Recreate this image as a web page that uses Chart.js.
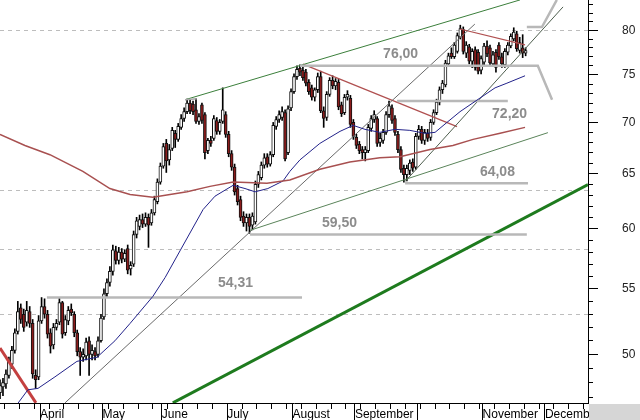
<!DOCTYPE html>
<html>
<head>
<meta charset="utf-8">
<script src="https://cdn.jsdelivr.net/npm/chart.js@4.4.1/dist/chart.umd.min.js"></script>
<style>
  html, body { margin: 0; padding: 0; background: #fff; }
  #wrap { width: 640px; height: 420px; }
</style>
</head>
<body>
<div id="wrap"><canvas id="chart" width="640" height="420"></canvas></div>
<script>
// daily candles, index 0 = first trading day shown (mid March)
const openP = [
  47.3,47.7,47.9,48.5,49.3,50.3,51.7,53.5,53.0,52.4,
  53.2,52.3,48.5,48.4,52.5,53.6,53.0,51.6,50.7,52.0,
  52.4,53.9,51.6,52.5,53.4,53.0,51.6,50.2,49.8,49.9,
  51.0,50.0,50.2,50.0,51.0,52.8,54.6,55.5,56.4,58.1,
  57.3,58.0,57.4,58.3,56.6,57.0,59.5,60.2,60.8,60.4,
  61.0,60.5,61.4,62.4,64.2,65.7,67.9,66.3,67.4,68.9,
  68.3,69.5,70.4,71.1,72.0,71.9,71.3,70.1,71.8,70.8,
  67.2,68.2,68.4,70.2,69.1,70.1,70.8,68.8,66.9,65.6,
  63.6,62.6,61.1,60.5,61.0,60.3,60.6,64.0,64.6,65.8,
  66.6,65.9,66.8,69.6,70.3,70.5,71.0,67.0,71.5,73.2,
  74.8,75.7,75.5,75.3,74.2,73.6,72.6,73.4,74.8,71.2,
  70.5,72.9,74.4,73.8,74.2,71.8,71.0,72.6,72.5,70.0,
  68.5,67.8,67.3,67.0,67.2,69.4,70.3,70.4,68.0,68.2,
  69.0,70.8,71.5,70.4,68.8,67.3,65.5,64.9,65.3,66.1,
  65.6,68.6,69.3,68.2,68.9,68.5,70.0,71.0,72.1,73.4,
  73.9,76.2,77.4,77.0,77.6,79.2,80.1,77.4,78.1,76.5,
  77.8,77.5,75.5,76.4,78.2,78.0,76.2,77.5,78.3,77.0,
  76.1,77.5,78.2,79.0,79.6,77.7,78.0,77.4
];
const highP = [
  48.2,48.3,48.9,49.8,50.6,51.9,54.0,53.8,53.4,54.0,
  53.6,52.6,48.9,52.9,54.3,54.2,53.3,51.9,52.3,52.6,
  54.3,54.0,52.9,53.6,53.8,53.2,51.8,50.5,50.4,51.2,
  51.3,50.7,50.5,51.3,53.0,55.0,55.8,56.8,58.6,58.5,
  58.4,58.3,58.2,58.6,57.2,59.8,61.0,61.2,61.3,61.4,
  61.3,61.7,62.9,64.5,66.0,67.9,68.3,67.8,69.5,69.2,
  69.9,70.8,71.5,72.4,72.3,72.2,72.5,70.9,72.0,71.0,
  68.4,68.6,70.7,70.5,70.3,73.6,71.1,69.1,67.2,65.9,
  63.9,62.9,61.5,61.3,61.3,61.4,64.3,65.2,66.1,66.9,
  66.9,67.1,70.0,70.6,71.2,71.6,71.3,71.7,73.5,75.1,
  76.0,76.1,76.0,75.6,74.5,73.9,73.6,75.2,75.4,71.6,
  73.2,74.7,74.9,74.6,74.5,72.1,72.9,73.3,72.8,70.3,
  68.8,68.1,67.6,67.6,69.8,70.7,71.2,70.6,68.9,69.3,
  71.1,72.2,71.8,70.7,69.1,67.6,65.8,65.8,66.3,66.4,
  68.9,69.7,69.6,69.3,69.3,70.3,71.3,72.4,73.7,74.4,
  76.6,77.4,78.0,78.6,79.7,80.6,80.4,78.7,78.4,77.9,
  78.1,77.8,77.1,78.5,78.8,78.3,77.6,77.8,78.6,77.4,
  77.9,78.6,79.6,80.3,79.9,79.2,79.5,78.0
];
const lowP = [
  46.9,47.1,47.6,48.3,49.0,50.1,51.5,52.3,51.7,52.1,
  52.0,48.3,47.6,48.2,52.3,52.7,51.2,50.1,50.4,51.8,
  52.2,51.2,51.4,52.2,52.9,51.3,49.9,48.5,49.5,49.6,
  48.5,49.6,49.6,49.8,50.9,52.6,54.3,55.2,56.1,57.0,
  57.0,57.1,57.2,56.2,56.1,56.8,59.2,59.9,60.1,60.2,
  58.4,60.3,61.2,62.2,64.0,65.5,65.1,65.8,67.2,67.5,
  68.1,69.3,70.1,70.9,70.9,70.8,69.9,69.8,69.9,66.4,
  66.9,67.6,68.2,68.8,68.8,69.9,68.5,66.6,65.3,63.0,
  62.1,60.7,60.2,59.8,59.6,59.9,60.4,63.7,64.4,65.5,
  65.6,65.7,66.6,69.3,70.0,70.2,66.2,66.8,71.2,73.0,
  74.5,74.9,74.4,73.8,72.9,72.3,72.2,73.1,71.0,69.5,
  70.2,72.7,73.5,73.4,71.3,70.6,70.8,72.3,69.5,68.3,
  67.4,66.9,66.4,66.2,67.0,69.1,70.0,67.6,67.6,67.9,
  68.8,70.5,69.9,68.7,67.0,65.1,64.2,64.3,64.9,65.2,
  65.4,68.3,67.9,67.8,68.1,68.2,69.8,70.8,71.8,73.0,
  73.7,76.0,76.8,76.8,77.4,79.0,77.3,76.9,76.2,75.8,
  75.5,75.1,75.1,76.1,77.0,76.0,75.9,75.3,76.7,75.8,
  75.8,77.2,78.0,78.8,77.6,77.4,76.9,77.1
];
const closeP = [
  47.8,48.0,48.6,49.5,50.3,51.6,53.2,52.6,52.0,53.3,
  52.3,48.6,48.2,52.5,53.6,53.0,51.5,50.6,52.0,52.3,
  53.9,51.5,52.6,53.3,53.1,51.6,50.2,49.8,50.0,50.9,
  50.0,50.3,49.9,51.0,52.7,54.6,55.5,56.4,58.2,57.3,
  58.0,57.4,57.9,56.5,56.9,59.5,60.7,60.8,60.4,61.0,
  60.3,61.4,62.6,64.2,65.7,67.6,66.2,67.3,69.2,68.3,
  69.6,70.4,71.1,72.0,71.2,71.1,70.1,70.6,70.2,67.0,
  68.2,67.9,70.4,69.1,70.0,71.3,68.8,66.9,65.6,63.3,
  62.4,61.0,60.5,61.0,60.2,61.1,64.0,64.9,65.8,66.5,
  65.9,66.8,69.7,70.3,70.8,71.1,66.4,71.4,73.2,74.8,
  75.6,75.3,74.7,74.1,73.2,72.6,73.4,74.8,71.2,70.4,
  72.9,74.4,73.8,74.3,71.6,70.9,72.6,72.9,69.8,68.6,
  67.7,67.2,67.0,67.3,69.5,70.4,70.8,67.9,68.4,69.0,
  70.8,71.7,70.2,69.0,67.3,65.4,64.9,65.5,66.0,65.5,
  68.6,69.3,68.2,69.0,68.4,70.0,71.0,72.1,73.4,74.1,
  76.3,77.1,77.0,78.3,79.4,80.2,77.6,78.3,76.5,77.6,
  75.8,75.4,76.8,78.2,77.3,76.3,77.2,75.8,77.0,76.2,
  77.6,78.3,79.3,79.8,77.9,78.6,77.4,77.7
];

// moving averages (day index, price)
const fastMaX = [6.1,9.4,12.8,18.5,25.9,32.7,34.7,38.7,43.8,51.5,55.6,60.6,68.4,72.4,78.5,82.5,85.9,90.2,95.3,97.6,101,107.7,114.5,118.9,122.9,127.9,133,138,143.1,146.5,150.5,154.9,160.6,166.7,170.7,176.8];
const fastMaY = [46.6,47.5,47.6,48.4,49.5,49.8,50.2,51.0,52.3,54.4,55.9,58.1,61.7,62.9,63.9,63.6,63.3,63.6,64.3,65.2,66.3,67.9,69.1,69.7,69.3,69.0,69.3,69.2,68.9,69.0,70.0,71.1,72.3,73.6,74.1,74.9];
const slowMaX = [0,8.4,16.8,27.9,37,43.8,51.5,63,70.7,78.5,89.9,97.6,107.7,117.8,127.9,134.7,144.8,152.5,159.3,168.4,176.8];
const slowMaY = [68.8,67.7,66.8,65.2,63.6,63.05,62.8,63.3,63.8,64.2,64.1,64.4,65.4,66.1,66.5,66.6,67.3,67.7,68.3,68.9,69.5];

// drawn trend lines and levels: [day index, price]
const upperChannel = [[62.3, 72.34], [175.1, 83.61]];
const juneStub = [[62.3, 72.34], [66.3, 72.44]];
const longSupport = [[21.9, 46.61], [159.9, 80.73]];
const lowerChannel = [[84.2, 59.86], [184.5, 68.97]];
const septSupport = [[136.4, 64.25], [189.6, 82.77]];
const augResistance = [[102, 76.17], [153.9, 69.57]];
const novResistance = [[154.9, 80.16], [176.8, 78.34]];
const bigSupport = [[58.2, 46.61], [198, 63.97]];
const marchDown = [[0, 50.47], [12.1, 46.61]];
const level5431 = [[15.8, 54.31], [101.7, 54.31]];
const level5950 = [[84.2, 59.5], [177.4, 59.5]];
const level6408 = [[136.4, 64.08], [177.8, 64.08]];
const level7220 = [[133.7, 72.2], [171.0, 72.2]];
const level7600 = [[101, 76.0], [181.1, 76.0], [185.9, 72.34]];
const level8040 = [[177.4, 80.39], [182.5, 80.39], [187.5, 83.61]];

const levelTexts = ['76,00', '72,20', '64,08', '59,50', '54,31'];
const levelTextAt = [[129.0, 76.87], [165.7, 70.47], [161.6, 64.78], [108.4, 60.17], [73.4, 55.16]];

// axes
const monthTicks = [13.5, 34.5, 54.5, 76.5, 98.5, 119.5, 140.5, 162.5, 183.5];
const monthLabels = ['April', 'May', 'June', 'July', 'August', 'September', '', 'November', 'December'];
const priceLabels = [50, 55, 60, 65, 70, 75, 80];
const gridLevels = [53.0, 58.2, 63.4, 80];

const xTickSet = new Set(monthTicks);
for (let w = 1.5; w < 198; w += 5) xTickSet.add(w);
const xTicks = [...xTickSet].sort((a, b) => a - b);
const yTickSet = new Set(gridLevels);
for (let v = 47; v <= 83; v++) yTickSet.add(v);
const yTicks = [...yTickSet].sort((a, b) => a - b);

const toPts = arr => arr.map(p => ({x: p[0], y: p[1]}));
const line = (pts, color, width) => ({
    type: 'line', data: toPts(pts), borderColor: color, borderWidth: width,
    pointRadius: 0, fill: false, tension: 0, order: 0
});

const datasets = [
    {
        type: 'bar', order: 2, grouped: false, barThickness: 1,
        data: highP.map((h, i) => ({x: i, y: [lowP[i], h]})),
        backgroundColor: '#000', borderWidth: 0
    },
    {
        type: 'bar', order: 1, grouped: false, barThickness: 3,
        data: closeP.map((c, i) => ({x: i, y: [openP[i], c]})),
        backgroundColor: closeP.map((c, i) => c >= openP[i] ? '#ffffff' : '#8b1c1c'),
        borderColor: '#111', borderWidth: 1, borderSkipped: false
    },
    line(slowMaX.map((v, i) => [v, slowMaY[i]]), '#a85050', 1.5),
    line(fastMaX.map((v, i) => [v, fastMaY[i]]), '#22228a', 1),
    line(level5431, '#b8b8b8', 2.5),
    line(level5950, '#b8b8b8', 2.5),
    line(level6408, '#b8b8b8', 2.5),
    line(level7220, '#b8b8b8', 2.5),
    line(level7600, '#b8b8b8', 2.5),
    line(level8040, '#b8b8b8', 2.5),
    line(juneStub, '#a8a8a8', 1.5),
    line(upperChannel, '#3b7f3b', 1),
    line(lowerChannel, '#5a845a', 1),
    line(longSupport, '#6a6a6a', 1),
    line(septSupport, '#4e5e4e', 1),
    line(augResistance, '#b05050', 1.2),
    line(novResistance, '#b05050', 1.2),
    line(bigSupport, '#1e7b1e', 3),
    line(marchDown, '#c44040', 3)
];

const decor = {
    id: 'decor',
    afterDatasetsDraw(chart) {
        const {ctx, scales: {x, y}} = chart;
        ctx.save();
        ctx.font = 'bold 14px "Liberation Sans", Arial, sans-serif';
        ctx.fillStyle = '#8c8c8c';
        ctx.textAlign = 'left';
        ctx.textBaseline = 'alphabetic';
        levelTexts.forEach((t, k) => {
            ctx.fillText(t, x.getPixelForValue(levelTextAt[k][0]), y.getPixelForValue(levelTextAt[k][1]));
        });
        ctx.restore();
    },
    afterDraw(chart) {
        const {ctx, chartArea} = chart;
        ctx.save();
        ctx.fillStyle = '#d6d6d6';
        ctx.fillRect(chartArea.right + 1, chartArea.bottom + 1, chart.width - chartArea.right, chart.height - chartArea.bottom);
        ctx.restore();
    }
};

new Chart(document.getElementById('chart'), {
    type: 'line',
    data: {datasets: datasets},
    plugins: [decor],
    options: {
        responsive: false,
        devicePixelRatio: 1,
        animation: false,
        events: [],
        layout: {padding: 0},
        plugins: {legend: {display: false}, tooltip: {enabled: false}},
        scales: {
            x: {
                type: 'linear', min: 0, max: 198, offset: false,
                afterBuildTicks: s => { s.ticks = xTicks.map(v => ({value: v})); },
                afterFit: s => { s.height = 17; s.paddingLeft = 0; s.paddingRight = 0; },
                grid: {
                    offset: false, drawOnChartArea: false, tickLength: 17, tickColor: '#000',
                    tickBorderDash: c => (c.tick && monthTicks.indexOf(c.tick.value) < 0) ? [5, 40] : []
                },
                border: {color: '#000', width: 1},
                ticks: {
                    autoSkip: false, maxRotation: 0, minRotation: 0, align: 'start', padding: -13,
                    color: '#000', font: {family: '"Liberation Sans", Arial, sans-serif', size: 12},
                    callback: v => { const k = monthTicks.indexOf(v); return k < 0 ? '' : monthLabels[k]; }
                }
            },
            y: {
                type: 'logarithmic', position: 'right', min: 46.6, max: 83.6, beginAtZero: false,
                afterBuildTicks: s => { s.ticks = yTicks.map(v => ({value: v})); },
                afterFit: s => { s.width = 52; s.paddingTop = 0; s.paddingBottom = 0; },
                grid: {
                    color: c => (c.tick && gridLevels.indexOf(c.tick.value) >= 0) ? '#bdbdbd' : 'rgba(0,0,0,0)',
                    tickLength: 10,
                    tickColor: c => (c.tick && Number.isInteger(c.tick.value)) ? '#000' : 'rgba(0,0,0,0)',
                    tickBorderDash: c => (c.tick && priceLabels.indexOf(c.tick.value) < 0) ? [4, 40] : []
                },
                border: {color: '#000', width: 1, dash: [4, 4]},
                ticks: {
                    autoSkip: false, padding: 24, color: '#222',
                    font: {family: '"Liberation Sans", Arial, sans-serif', size: 12},
                    callback: v => priceLabels.indexOf(v) >= 0 ? String(v) : ''
                }
            }
        }
    }
});
</script>
</body>
</html>
